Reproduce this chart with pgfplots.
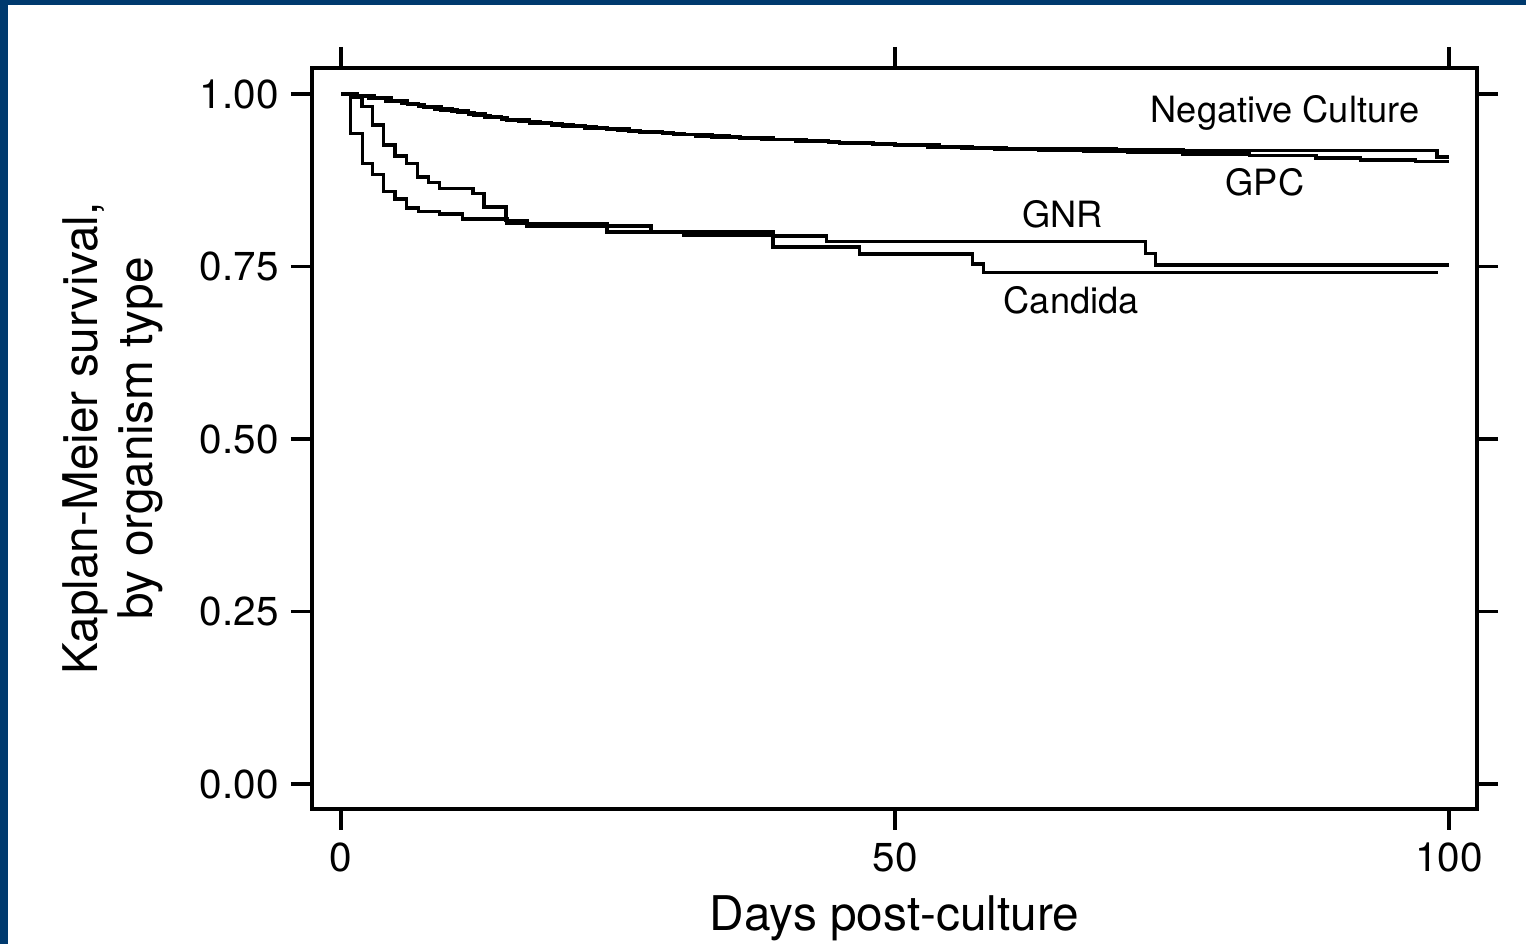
\documentclass[border=0pt]{standalone}
\usepackage{fontspec}
\setmainfont{TeX Gyre Heros}
\usepackage{pgfplots}
\pgfplotsset{compat=1.18}
\definecolor{navy}{HTML}{003A6E}

\begin{document}
\begin{tikzpicture}
\path[use as bounding box] (0,0) rectangle (152.6mm,94.4mm);
\fill[navy] (0,0) rectangle (0.8mm,94.4mm);
\fill[navy] (0,93.9mm) rectangle (152.6mm,94.4mm);
\begin{axis}[
  at={(31.2mm,13.5mm)}, anchor=south west,
  scale only axis, width=116.5mm, height=74.1mm,
  xmin=-2.62, xmax=102.53, ymin=-0.0362, ymax=1.0377,
  xtick={0,50,100}, ytick={0,0.25,0.5,0.75,1},
  tick align=outside, tick pos=both,
  major tick length=2.1mm,
  axis line style={line width=0.9pt},
  every tick/.style={line width=0.9pt, black},
  yticklabel style={/pgf/number format/.cd, fixed, fixed zerofill, precision=2},
  /pgf/number format/assume math mode=true,
  ticklabel style={font=\fontsize{11.5}{13}\selectfont},
  xlabel={Days post-culture},
  ylabel={Kaplan-Meier survival,\\by organism type},
  label style={font=\fontsize{13.6}{15.6}\selectfont},
  ylabel style={align=center},
  ylabel shift=1.3mm,
  clip=false,
]
\addplot[const plot, black, line width=1pt] coordinates {
(0,1.000) (1.5,0.998) (3,0.994) (4.5,0.990) (6,0.985) (7.5,0.981) (9,0.977)
(10.5,0.973) (12,0.969) (13.5,0.966) (15,0.962) (17,0.958) (19,0.955) (21,0.953)
(23,0.950) (25,0.947) (27,0.945) (29,0.943) (31,0.941) (33.5,0.938) (36,0.936)
(39,0.934) (42,0.931) (45,0.929) (48,0.927) (51,0.926) (54,0.924) (57,0.922)
(60,0.921) (64,0.920) (70,0.919) (76,0.918) (98.9,0.909) (100,0.909)
};
\addplot[const plot, black, line width=1pt] coordinates {
(0,1.000) (1,0.997) (2.5,0.994) (4,0.990) (5.5,0.986) (7,0.982) (8.5,0.978)
(10,0.975) (11.5,0.971) (13,0.967) (14.5,0.963) (16,0.960) (18,0.957) (20,0.954)
(22,0.951) (24,0.949) (26,0.946) (28,0.944) (30,0.941) (32,0.939) (35,0.937)
(38,0.934) (41,0.932) (44,0.930) (47,0.928) (50,0.926) (53,0.923) (56,0.922)
(59,0.920) (63,0.918) (67,0.917) (71,0.915) (76,0.913) (82,0.911) (88,0.907)
(92,0.904) (97,0.902) (100,0.902)
};
% Candida
\addplot[const plot, black, line width=1pt] coordinates {
(0,1.000) (0.87,0.943) (1.92,0.899) (2.86,0.883) (3.82,0.859) (4.87,0.848)
(5.93,0.835) (6.98,0.830) (8.9,0.826) (10.98,0.819) (14.96,0.812) (24,0.800)
(30.9,0.795) (39,0.778) (46.8,0.768) (57,0.754) (58,0.741) (99,0.741)
};
% GNR
\addplot[const plot, black, line width=1pt] coordinates {
(0,1.000) (0.87,0.995) (1.87,0.982) (2.86,0.955) (3.82,0.926) (4.87,0.910)
(5.93,0.899) (6.9,0.880) (7.9,0.872) (8.9,0.863) (11.9,0.856) (12.9,0.836)
(14.9,0.817) (16.8,0.809) (28,0.800) (39,0.794) (43.8,0.786) (72.6,0.769)
(73.5,0.752) (100,0.752)
};
\begin{scope}[font=\fontsize{10.3}{12}\selectfont]
\node at (axis cs:85.2,0.972) {Negative Culture};
\node at (axis cs:83.4,0.872) {GPC};
\node at (axis cs:65.1,0.825) {GNR};
\node at (axis cs:65.9,0.701) {Candida};
\end{scope}
\end{axis}
\end{tikzpicture}
\end{document}
